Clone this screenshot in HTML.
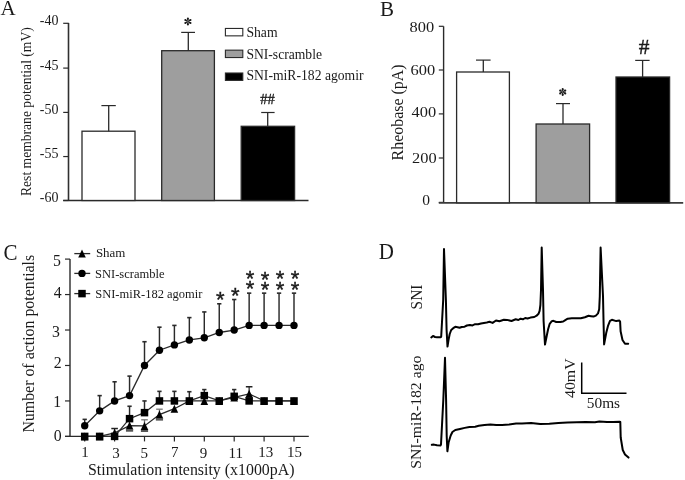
<!DOCTYPE html>
<html><head><meta charset="utf-8"><style>
html,body{margin:0;padding:0;background:#fff;}
svg{display:block;}
text{font-family:"Liberation Serif", serif;fill:#1a1a1a;}
svg{will-change:transform;}
</style></head><body>
<svg width="685" height="480" viewBox="0 0 685 480">
<rect x="0" y="0" width="685" height="480" fill="#fff"/>
<text x="0.5" y="15.3" font-size="21" text-anchor="start">A</text>
<text x="380" y="15.6" font-size="21" text-anchor="start">B</text>
<text transform="translate(3.5,259.7) scale(1,1.07)" font-size="21">C</text>
<text transform="translate(378.7,258.7) scale(1,1.07)" font-size="21">D</text>
<line x1="68.5" y1="22.9" x2="68.5" y2="200.5" stroke="#303030" stroke-width="1.6"/>
<line x1="63.2" y1="23.3" x2="68.5" y2="23.3" stroke="#2a2a2a" stroke-width="1.2"/>
<text x="58.5" y="25.2" font-size="14" text-anchor="end">-40</text>
<line x1="63.2" y1="68.1" x2="68.5" y2="68.1" stroke="#2a2a2a" stroke-width="1.2"/>
<text x="58.5" y="70.0" font-size="14" text-anchor="end">-45</text>
<line x1="63.2" y1="112.4" x2="68.5" y2="112.4" stroke="#2a2a2a" stroke-width="1.2"/>
<text x="58.5" y="114.3" font-size="14" text-anchor="end">-50</text>
<line x1="63.2" y1="156.55" x2="68.5" y2="156.55" stroke="#2a2a2a" stroke-width="1.2"/>
<text x="58.5" y="158.45" font-size="14" text-anchor="end">-55</text>
<line x1="63.2" y1="200.5" x2="68.5" y2="200.5" stroke="#2a2a2a" stroke-width="1.2"/>
<text x="58.5" y="202.4" font-size="14" text-anchor="end">-60</text>
<line x1="63.2" y1="200.5" x2="308.5" y2="200.5" stroke="#2a2a2a" stroke-width="1.4"/>
<rect x="82.0" y="131.2" width="53.0" height="69.3" fill="#ffffff" stroke="#2a2a2a" stroke-width="1.3"/>
<rect x="161.7" y="50.7" width="52.7" height="149.8" fill="#9e9e9e" stroke="#2a2a2a" stroke-width="1.3"/>
<rect x="241.2" y="126.3" width="53.4" height="74.2" fill="#000000" stroke="#2a2a2a" stroke-width="1.3"/>
<line x1="108.7" y1="131.2" x2="108.7" y2="105.6" stroke="#2a2a2a" stroke-width="1.3"/>
<line x1="101.4" y1="105.6" x2="115.8" y2="105.6" stroke="#2a2a2a" stroke-width="1.2"/>
<line x1="188.3" y1="50.7" x2="188.3" y2="32.4" stroke="#2a2a2a" stroke-width="1.3"/>
<line x1="181.2" y1="32.4" x2="195.0" y2="32.4" stroke="#2a2a2a" stroke-width="1.2"/>
<line x1="267.7" y1="126.3" x2="267.7" y2="112.5" stroke="#2a2a2a" stroke-width="1.3"/>
<line x1="261.2" y1="112.5" x2="274.6" y2="112.5" stroke="#2a2a2a" stroke-width="1.2"/>
<polygon points="188.25,21.20 188.90,18.50 186.90,18.50 187.55,21.20" fill="#1a1a1a"/>
<circle cx="187.90" cy="18.50" r="1.0" fill="#1a1a1a"/>
<polygon points="188.33,21.65 191.00,20.87 190.00,19.13 187.98,21.05" fill="#1a1a1a"/>
<circle cx="190.50" cy="20.00" r="1.0" fill="#1a1a1a"/>
<polygon points="187.82,21.05 185.80,19.13 184.80,20.87 187.47,21.65" fill="#1a1a1a"/>
<circle cx="185.30" cy="20.00" r="1.0" fill="#1a1a1a"/>
<polygon points="187.47,21.35 184.80,22.13 185.80,23.87 187.82,21.95" fill="#1a1a1a"/>
<circle cx="185.30" cy="23.00" r="1.0" fill="#1a1a1a"/>
<polygon points="187.55,21.80 186.90,24.50 188.90,24.50 188.25,21.80" fill="#1a1a1a"/>
<circle cx="187.90" cy="24.50" r="1.0" fill="#1a1a1a"/>
<polygon points="187.98,21.95 190.00,23.87 191.00,22.13 188.33,21.35" fill="#1a1a1a"/>
<circle cx="190.50" cy="23.00" r="1.0" fill="#1a1a1a"/>
<text x="267.6" y="104.2" font-size="14.5" text-anchor="middle" stroke="#1a1a1a" stroke-width="0.35">##</text>
<rect x="225.4" y="28.45" width="17.4" height="7.4" fill="#ffffff" stroke="#2a2a2a" stroke-width="1.1"/>
<text x="246.4" y="36.9" font-size="13.8" text-anchor="start" textLength="31.2" lengthAdjust="spacingAndGlyphs">Sham</text>
<rect x="225.4" y="50.15" width="17.4" height="7.4" fill="#9e9e9e" stroke="#2a2a2a" stroke-width="1.1"/>
<text x="246.4" y="58.8" font-size="13.8" text-anchor="start" textLength="75.6" lengthAdjust="spacingAndGlyphs">SNI-scramble</text>
<rect x="225.4" y="73.0" width="17.4" height="7.4" fill="#000000" stroke="#2a2a2a" stroke-width="1.1"/>
<text x="246.4" y="80.3" font-size="13.8" text-anchor="start" textLength="117.2" lengthAdjust="spacingAndGlyphs">SNI-miR-182 agomir</text>
<text transform="translate(30.7,196.0) rotate(-90)" font-size="14.0" text-anchor="start" textLength="168.8" lengthAdjust="spacingAndGlyphs">Rest membrane potential (mV)</text>
<line x1="443.6" y1="26.3" x2="443.6" y2="202.4" stroke="#2a2a2a" stroke-width="1.4"/>
<line x1="438.8" y1="26.3" x2="443.6" y2="26.3" stroke="#2a2a2a" stroke-width="1.2"/>
<line x1="438.8" y1="70.0" x2="443.6" y2="70.0" stroke="#2a2a2a" stroke-width="1.2"/>
<line x1="438.8" y1="113.9" x2="443.6" y2="113.9" stroke="#2a2a2a" stroke-width="1.2"/>
<line x1="438.8" y1="158.0" x2="443.6" y2="158.0" stroke="#2a2a2a" stroke-width="1.2"/>
<line x1="438.8" y1="202.4" x2="443.6" y2="202.4" stroke="#2a2a2a" stroke-width="1.2"/>
<text x="434.2" y="31.8" font-size="15.5" text-anchor="end" textLength="24.6" lengthAdjust="spacingAndGlyphs">800</text>
<text x="435.2" y="75.4" font-size="15.5" text-anchor="end" textLength="24.6" lengthAdjust="spacingAndGlyphs">600</text>
<text x="436.2" y="117.1" font-size="15.5" text-anchor="end" textLength="24.6" lengthAdjust="spacingAndGlyphs">400</text>
<text x="436.7" y="163.4" font-size="15.5" text-anchor="end" textLength="24.6" lengthAdjust="spacingAndGlyphs">200</text>
<text x="426.0" y="204.7" font-size="15.5" text-anchor="middle">0</text>
<line x1="438.8" y1="202.8" x2="683.2" y2="202.8" stroke="#3a3a3a" stroke-width="1.7"/>
<rect x="456.6" y="72.0" width="52.8" height="130.8" fill="#ffffff" stroke="#2a2a2a" stroke-width="1.3"/>
<rect x="536.1" y="124.0" width="53.5" height="78.8" fill="#9e9e9e" stroke="#2a2a2a" stroke-width="1.3"/>
<rect x="616.0" y="77.0" width="53.6" height="125.8" fill="#000000" stroke="#2a2a2a" stroke-width="1.3"/>
<line x1="483.3" y1="72.0" x2="483.3" y2="60.1" stroke="#2a2a2a" stroke-width="1.3"/>
<line x1="476.0" y1="60.1" x2="490.6" y2="60.1" stroke="#2a2a2a" stroke-width="1.2"/>
<line x1="563.0" y1="124.0" x2="563.0" y2="103.6" stroke="#2a2a2a" stroke-width="1.3"/>
<line x1="556.0" y1="103.6" x2="570.0" y2="103.6" stroke="#2a2a2a" stroke-width="1.2"/>
<line x1="642.6" y1="77.0" x2="642.6" y2="60.4" stroke="#2a2a2a" stroke-width="1.3"/>
<line x1="635.2" y1="60.4" x2="649.6" y2="60.4" stroke="#2a2a2a" stroke-width="1.2"/>
<polygon points="563.05,91.60 563.70,88.90 561.70,88.90 562.35,91.60" fill="#1a1a1a"/>
<circle cx="562.70" cy="88.90" r="1.0" fill="#1a1a1a"/>
<polygon points="563.13,92.05 565.80,91.27 564.80,89.53 562.78,91.45" fill="#1a1a1a"/>
<circle cx="565.30" cy="90.40" r="1.0" fill="#1a1a1a"/>
<polygon points="562.62,91.45 560.60,89.53 559.60,91.27 562.27,92.05" fill="#1a1a1a"/>
<circle cx="560.10" cy="90.40" r="1.0" fill="#1a1a1a"/>
<polygon points="562.27,91.75 559.60,92.53 560.60,94.27 562.62,92.35" fill="#1a1a1a"/>
<circle cx="560.10" cy="93.40" r="1.0" fill="#1a1a1a"/>
<polygon points="562.35,92.20 561.70,94.90 563.70,94.90 563.05,92.20" fill="#1a1a1a"/>
<circle cx="562.70" cy="94.90" r="1.0" fill="#1a1a1a"/>
<polygon points="562.78,92.35 564.80,94.27 565.80,92.53 563.13,91.75" fill="#1a1a1a"/>
<circle cx="565.30" cy="93.40" r="1.0" fill="#1a1a1a"/>
<text x="644.1" y="53.8" font-size="21.4" text-anchor="middle" stroke="#1a1a1a" stroke-width="0.4">#</text>
<text transform="translate(402.9,160.4) rotate(-90)" font-size="16.2" text-anchor="start" textLength="96.0" lengthAdjust="spacingAndGlyphs">Rheobase (pA)</text>
<line x1="70.0" y1="259.1" x2="70.0" y2="436.4" stroke="#2a2a2a" stroke-width="1.4"/>
<line x1="65.0" y1="436.4" x2="70.0" y2="436.4" stroke="#2a2a2a" stroke-width="1.2"/>
<text x="61.6" y="440.5" font-size="15.8" text-anchor="end">0</text>
<line x1="65.0" y1="400.94" x2="70.0" y2="400.94" stroke="#2a2a2a" stroke-width="1.2"/>
<text x="61.2" y="406.5" font-size="15.8" text-anchor="end">1</text>
<line x1="65.0" y1="365.48" x2="70.0" y2="365.48" stroke="#2a2a2a" stroke-width="1.2"/>
<text x="61.6" y="368.1" font-size="15.8" text-anchor="end">2</text>
<line x1="65.0" y1="330.02" x2="70.0" y2="330.02" stroke="#2a2a2a" stroke-width="1.2"/>
<text x="59.8" y="336.6" font-size="15.8" text-anchor="end">3</text>
<line x1="65.0" y1="294.56" x2="70.0" y2="294.56" stroke="#2a2a2a" stroke-width="1.2"/>
<text x="61.6" y="297.8" font-size="15.8" text-anchor="end">4</text>
<line x1="65.0" y1="259.1" x2="70.0" y2="259.1" stroke="#2a2a2a" stroke-width="1.2"/>
<text x="60.9" y="265.6" font-size="15.8" text-anchor="end">5</text>
<line x1="65.0" y1="436.4" x2="308.8" y2="436.4" stroke="#2a2a2a" stroke-width="1.4"/>
<line x1="84.7" y1="436.4" x2="84.7" y2="441.4" stroke="#2a2a2a" stroke-width="1.2"/>
<line x1="114.6" y1="436.4" x2="114.6" y2="441.4" stroke="#2a2a2a" stroke-width="1.2"/>
<line x1="144.5" y1="436.4" x2="144.5" y2="441.4" stroke="#2a2a2a" stroke-width="1.2"/>
<line x1="174.4" y1="436.4" x2="174.4" y2="441.4" stroke="#2a2a2a" stroke-width="1.2"/>
<line x1="204.3" y1="436.4" x2="204.3" y2="441.4" stroke="#2a2a2a" stroke-width="1.2"/>
<line x1="234.2" y1="436.4" x2="234.2" y2="441.4" stroke="#2a2a2a" stroke-width="1.2"/>
<line x1="264.1" y1="436.4" x2="264.1" y2="441.4" stroke="#2a2a2a" stroke-width="1.2"/>
<line x1="294.0" y1="436.4" x2="294.0" y2="441.4" stroke="#2a2a2a" stroke-width="1.2"/>
<text x="85.0" y="457.3" font-size="15" text-anchor="middle">1</text>
<text x="116.0" y="457.9" font-size="15" text-anchor="middle">3</text>
<text x="144.2" y="457.7" font-size="15" text-anchor="middle">5</text>
<text x="174.7" y="456.5" font-size="15" text-anchor="middle">7</text>
<text x="203.4" y="458.0" font-size="15" text-anchor="middle">9</text>
<text x="235.7" y="458.0" font-size="15" text-anchor="middle">11</text>
<text x="265.8" y="457.2" font-size="15" text-anchor="middle">13</text>
<text x="294.4" y="457.2" font-size="15" text-anchor="middle">15</text>
<text x="88.0" y="474.6" font-size="15.8" text-anchor="start" textLength="206.5" lengthAdjust="spacingAndGlyphs">Stimulation intensity (x1000pA)</text>
<text transform="translate(33.9,432.6) rotate(-90)" font-size="16.3" text-anchor="start" textLength="177.8" lengthAdjust="spacingAndGlyphs">Number of action potentials</text>
<line x1="84.7" y1="425.76" x2="84.7" y2="419.38" stroke="#2a2a2a" stroke-width="1.45"/>
<line x1="82.55" y1="419.38" x2="86.85" y2="419.38" stroke="#2a2a2a" stroke-width="1.6"/>
<line x1="99.65" y1="410.87" x2="99.65" y2="395.62" stroke="#2a2a2a" stroke-width="1.45"/>
<line x1="97.5" y1="395.62" x2="101.8" y2="395.62" stroke="#2a2a2a" stroke-width="1.6"/>
<line x1="114.6" y1="400.94" x2="114.6" y2="381.79" stroke="#2a2a2a" stroke-width="1.45"/>
<line x1="112.45" y1="381.79" x2="116.75" y2="381.79" stroke="#2a2a2a" stroke-width="1.6"/>
<line x1="129.55" y1="395.62" x2="129.55" y2="376.12" stroke="#2a2a2a" stroke-width="1.45"/>
<line x1="127.4" y1="376.12" x2="131.7" y2="376.12" stroke="#2a2a2a" stroke-width="1.6"/>
<line x1="144.5" y1="365.48" x2="144.5" y2="341.72" stroke="#2a2a2a" stroke-width="1.45"/>
<line x1="142.35" y1="341.72" x2="146.65" y2="341.72" stroke="#2a2a2a" stroke-width="1.6"/>
<line x1="159.45" y1="350.23" x2="159.45" y2="327.18" stroke="#2a2a2a" stroke-width="1.45"/>
<line x1="157.3" y1="327.18" x2="161.6" y2="327.18" stroke="#2a2a2a" stroke-width="1.6"/>
<line x1="174.4" y1="344.91" x2="174.4" y2="325.41" stroke="#2a2a2a" stroke-width="1.45"/>
<line x1="172.25" y1="325.41" x2="176.55" y2="325.41" stroke="#2a2a2a" stroke-width="1.6"/>
<line x1="189.35" y1="339.95" x2="189.35" y2="317.61" stroke="#2a2a2a" stroke-width="1.45"/>
<line x1="187.2" y1="317.61" x2="191.5" y2="317.61" stroke="#2a2a2a" stroke-width="1.6"/>
<line x1="204.3" y1="337.82" x2="204.3" y2="311.94" stroke="#2a2a2a" stroke-width="1.45"/>
<line x1="202.15" y1="311.94" x2="206.45" y2="311.94" stroke="#2a2a2a" stroke-width="1.6"/>
<line x1="219.25" y1="332.5" x2="219.25" y2="303.78" stroke="#2a2a2a" stroke-width="1.45"/>
<line x1="217.1" y1="303.78" x2="221.4" y2="303.78" stroke="#2a2a2a" stroke-width="1.6"/>
<line x1="234.2" y1="330.02" x2="234.2" y2="299.52" stroke="#2a2a2a" stroke-width="1.45"/>
<line x1="232.05" y1="299.52" x2="236.35" y2="299.52" stroke="#2a2a2a" stroke-width="1.6"/>
<line x1="249.15" y1="325.41" x2="249.15" y2="293.14" stroke="#2a2a2a" stroke-width="1.45"/>
<line x1="247.0" y1="293.14" x2="251.3" y2="293.14" stroke="#2a2a2a" stroke-width="1.6"/>
<line x1="264.1" y1="325.41" x2="264.1" y2="293.14" stroke="#2a2a2a" stroke-width="1.45"/>
<line x1="261.95" y1="293.14" x2="266.25" y2="293.14" stroke="#2a2a2a" stroke-width="1.6"/>
<line x1="279.05" y1="325.41" x2="279.05" y2="293.14" stroke="#2a2a2a" stroke-width="1.45"/>
<line x1="276.9" y1="293.14" x2="281.2" y2="293.14" stroke="#2a2a2a" stroke-width="1.6"/>
<line x1="294.0" y1="325.41" x2="294.0" y2="293.14" stroke="#2a2a2a" stroke-width="1.45"/>
<line x1="291.85" y1="293.14" x2="296.15" y2="293.14" stroke="#2a2a2a" stroke-width="1.6"/>
<line x1="129.55" y1="418.67" x2="129.55" y2="406.26" stroke="#2a2a2a" stroke-width="1.45"/>
<line x1="127.4" y1="406.26" x2="131.7" y2="406.26" stroke="#2a2a2a" stroke-width="1.6"/>
<line x1="144.5" y1="412.64" x2="144.5" y2="400.94" stroke="#2a2a2a" stroke-width="1.45"/>
<line x1="142.35" y1="400.94" x2="146.65" y2="400.94" stroke="#2a2a2a" stroke-width="1.6"/>
<line x1="159.45" y1="400.94" x2="159.45" y2="391.37" stroke="#2a2a2a" stroke-width="1.45"/>
<line x1="157.3" y1="391.37" x2="161.6" y2="391.37" stroke="#2a2a2a" stroke-width="1.6"/>
<line x1="174.4" y1="400.94" x2="174.4" y2="391.37" stroke="#2a2a2a" stroke-width="1.45"/>
<line x1="172.25" y1="391.37" x2="176.55" y2="391.37" stroke="#2a2a2a" stroke-width="1.6"/>
<line x1="189.35" y1="400.94" x2="189.35" y2="391.72" stroke="#2a2a2a" stroke-width="1.45"/>
<line x1="187.2" y1="391.72" x2="191.5" y2="391.72" stroke="#2a2a2a" stroke-width="1.6"/>
<line x1="204.3" y1="395.62" x2="204.3" y2="389.59" stroke="#2a2a2a" stroke-width="1.45"/>
<line x1="202.15" y1="389.59" x2="206.45" y2="389.59" stroke="#2a2a2a" stroke-width="1.6"/>
<line x1="234.2" y1="396.33" x2="234.2" y2="389.59" stroke="#2a2a2a" stroke-width="1.45"/>
<line x1="232.05" y1="389.59" x2="236.35" y2="389.59" stroke="#2a2a2a" stroke-width="1.6"/>
<line x1="114.6" y1="432.85" x2="114.6" y2="428.53" stroke="#333" stroke-width="1.3"/>
<line x1="111.3" y1="428.53" x2="117.9" y2="428.53" stroke="#222" stroke-width="1.5"/>
<rect x="125.95" y="429.52" width="7.2" height="2.2" fill="#555"/>
<line x1="144.5" y1="425.9" x2="144.5" y2="419.8" stroke="#666" stroke-width="1.3"/>
<line x1="141.2" y1="419.8" x2="147.8" y2="419.8" stroke="#777" stroke-width="1.3"/>
<rect x="140.90" y="429.80" width="7.2" height="2.2" fill="#555"/>
<line x1="159.45" y1="414.52" x2="159.45" y2="409.2" stroke="#666" stroke-width="1.3"/>
<line x1="156.15" y1="409.2" x2="162.75" y2="409.2" stroke="#777" stroke-width="1.3"/>
<rect x="155.85" y="418.42" width="7.2" height="2.2" fill="#555"/>
<line x1="249.15" y1="393.85" x2="249.15" y2="386.76" stroke="#333" stroke-width="1.3"/>
<line x1="245.85" y1="386.76" x2="252.45" y2="386.76" stroke="#222" stroke-width="1.5"/>
<polyline points="84.70,436.40 99.65,436.40 114.60,432.85 129.55,425.62 144.50,425.90 159.45,414.52 174.40,408.71 189.35,400.94 204.30,400.94 219.25,400.94 234.20,397.39 249.15,393.85 264.10,400.94 279.05,400.94 294.00,400.94" fill="none" stroke="#2a2a2a" stroke-width="1.3"/>
<polyline points="84.70,436.40 99.65,436.40 114.60,436.40 129.55,418.67 144.50,412.64 159.45,400.94 174.40,400.94 189.35,400.94 204.30,395.62 219.25,400.94 234.20,396.33 249.15,400.94 264.10,400.94 279.05,400.94 294.00,400.94" fill="none" stroke="#2a2a2a" stroke-width="1.3"/>
<polyline points="84.70,425.76 99.65,410.87 114.60,400.94 129.55,395.62 144.50,365.48 159.45,350.23 174.40,344.91 189.35,339.95 204.30,337.82 219.25,332.50 234.20,330.02 249.15,325.41 264.10,325.41 279.05,325.41 294.00,325.41" fill="none" stroke="#2a2a2a" stroke-width="1.3"/>
<polygon points="84.70,432.40 88.50,440.40 80.90,440.40" fill="#000"/>
<polygon points="99.65,432.40 103.45,440.40 95.85,440.40" fill="#000"/>
<polygon points="114.60,428.85 118.40,436.85 110.80,436.85" fill="#000"/>
<polygon points="129.55,421.62 133.35,429.62 125.75,429.62" fill="#000"/>
<polygon points="144.50,421.90 148.30,429.90 140.70,429.90" fill="#000"/>
<polygon points="159.45,410.52 163.25,418.52 155.65,418.52" fill="#000"/>
<polygon points="174.40,404.71 178.20,412.71 170.60,412.71" fill="#000"/>
<polygon points="189.35,396.94 193.15,404.94 185.55,404.94" fill="#000"/>
<polygon points="204.30,396.94 208.10,404.94 200.50,404.94" fill="#000"/>
<polygon points="219.25,396.94 223.05,404.94 215.45,404.94" fill="#000"/>
<polygon points="234.20,393.39 238.00,401.39 230.40,401.39" fill="#000"/>
<polygon points="249.15,389.85 252.95,397.85 245.35,397.85" fill="#000"/>
<polygon points="264.10,396.94 267.90,404.94 260.30,404.94" fill="#000"/>
<polygon points="279.05,396.94 282.85,404.94 275.25,404.94" fill="#000"/>
<polygon points="294.00,396.94 297.80,404.94 290.20,404.94" fill="#000"/>
<rect x="80.95" y="432.65" width="7.5" height="7.5" fill="#000"/>
<rect x="95.90" y="432.65" width="7.5" height="7.5" fill="#000"/>
<rect x="110.85" y="432.65" width="7.5" height="7.5" fill="#000"/>
<rect x="125.80" y="414.92" width="7.5" height="7.5" fill="#000"/>
<rect x="140.75" y="408.89" width="7.5" height="7.5" fill="#000"/>
<rect x="155.70" y="397.19" width="7.5" height="7.5" fill="#000"/>
<rect x="170.65" y="397.19" width="7.5" height="7.5" fill="#000"/>
<rect x="185.60" y="397.19" width="7.5" height="7.5" fill="#000"/>
<rect x="200.55" y="391.87" width="7.5" height="7.5" fill="#000"/>
<rect x="215.50" y="397.19" width="7.5" height="7.5" fill="#000"/>
<rect x="230.45" y="392.58" width="7.5" height="7.5" fill="#000"/>
<rect x="245.40" y="397.19" width="7.5" height="7.5" fill="#000"/>
<rect x="260.35" y="397.19" width="7.5" height="7.5" fill="#000"/>
<rect x="275.30" y="397.19" width="7.5" height="7.5" fill="#000"/>
<rect x="290.25" y="397.19" width="7.5" height="7.5" fill="#000"/>
<circle cx="84.70" cy="425.76" r="3.7" fill="#000"/>
<circle cx="99.65" cy="410.87" r="3.7" fill="#000"/>
<circle cx="114.60" cy="400.94" r="3.7" fill="#000"/>
<circle cx="129.55" cy="395.62" r="3.7" fill="#000"/>
<circle cx="144.50" cy="365.48" r="3.7" fill="#000"/>
<circle cx="159.45" cy="350.23" r="3.7" fill="#000"/>
<circle cx="174.40" cy="344.91" r="3.7" fill="#000"/>
<circle cx="189.35" cy="339.95" r="3.7" fill="#000"/>
<circle cx="204.30" cy="337.82" r="3.7" fill="#000"/>
<circle cx="219.25" cy="332.50" r="3.7" fill="#000"/>
<circle cx="234.20" cy="330.02" r="3.7" fill="#000"/>
<circle cx="249.15" cy="325.41" r="3.7" fill="#000"/>
<circle cx="264.10" cy="325.41" r="3.7" fill="#000"/>
<circle cx="279.05" cy="325.41" r="3.7" fill="#000"/>
<circle cx="294.00" cy="325.41" r="3.7" fill="#000"/>
<text x="220.25" y="307.20" font-size="22" text-anchor="middle" stroke="#1a1a1a" stroke-width="0.4" style="font-family:Liberation Sans">*</text>
<text x="235.20" y="303.20" font-size="22" text-anchor="middle" stroke="#1a1a1a" stroke-width="0.4" style="font-family:Liberation Sans">*</text>
<text x="250.15" y="285.90" font-size="22" text-anchor="middle" stroke="#1a1a1a" stroke-width="0.4" style="font-family:Liberation Sans">*</text>
<text x="250.15" y="296.40" font-size="22" text-anchor="middle" stroke="#1a1a1a" stroke-width="0.4" style="font-family:Liberation Sans">*</text>
<text x="265.10" y="286.70" font-size="22" text-anchor="middle" stroke="#1a1a1a" stroke-width="0.4" style="font-family:Liberation Sans">*</text>
<text x="265.10" y="297.30" font-size="22" text-anchor="middle" stroke="#1a1a1a" stroke-width="0.4" style="font-family:Liberation Sans">*</text>
<text x="280.05" y="286.30" font-size="22" text-anchor="middle" stroke="#1a1a1a" stroke-width="0.4" style="font-family:Liberation Sans">*</text>
<text x="280.05" y="296.80" font-size="22" text-anchor="middle" stroke="#1a1a1a" stroke-width="0.4" style="font-family:Liberation Sans">*</text>
<text x="295.00" y="286.30" font-size="22" text-anchor="middle" stroke="#1a1a1a" stroke-width="0.4" style="font-family:Liberation Sans">*</text>
<text x="295.00" y="296.80" font-size="22" text-anchor="middle" stroke="#1a1a1a" stroke-width="0.4" style="font-family:Liberation Sans">*</text>
<line x1="74.3" y1="253.6" x2="90.2" y2="253.6" stroke="#2a2a2a" stroke-width="1.3"/>
<polygon points="82.00,249.60 85.80,257.60 78.20,257.60" fill="#000"/>
<text x="95.9" y="256.8" font-size="12.6" text-anchor="start" textLength="29.5" lengthAdjust="spacingAndGlyphs">Sham</text>
<line x1="74.3" y1="273.4" x2="90.2" y2="273.4" stroke="#2a2a2a" stroke-width="1.3"/>
<circle cx="82.00" cy="273.40" r="3.7" fill="#000"/>
<text x="95.0" y="277.8" font-size="12.6" text-anchor="start" textLength="69.6" lengthAdjust="spacingAndGlyphs">SNI-scramble</text>
<line x1="74.3" y1="293.6" x2="90.2" y2="293.6" stroke="#2a2a2a" stroke-width="1.3"/>
<rect x="78.25" y="289.85" width="7.5" height="7.5" fill="#000"/>
<text x="95.2" y="298.4" font-size="12.6" text-anchor="start" textLength="107.3" lengthAdjust="spacingAndGlyphs">SNI-miR-182 agomir</text>
<polyline points="431.3,337.4 433,335.9 435,337 437,337.3 440.8,337.2 441.2,336.5 443.2,300 444.0,249.0 445.9,300 446.6,330 447.5,346.6 448.5,340 449.7,334 451.2,330 453.2,328.2 455.3,326.8 457.6,327.2 459.6,327.8 461.7,327 464.6,326.7 466.9,325.5 469.9,324.9 472.5,325.4 475.1,324.2 478.1,324.3 481,323.5 483.9,322.9 486.8,322.5 489.5,321.8 492.6,322.9 496,320.5 499.4,321.2 503.9,319.7 507,319.9 511.5,321 515.7,319.3 518.4,320 520.6,318.7 522.9,319.3 525.2,318 527.5,318.5 530.5,317.6 534.3,317 536.6,315.7 538.5,313.8 539.6,310.8 540.4,305 541.0,290 541.7,247.6 543.0,290 543.6,321 545.0,344.6 546.9,335 548.1,329.3 549.7,323.8 551.8,321.2 553.4,320.8 556.3,322 560.4,322 563.2,321.5 565.3,320.1 567.7,318.7 571.8,318.3 576.7,318.3 580.8,318.3 584.9,317.3 588.6,315.8 591,316.2 593.5,316.6 595.9,315.6 598,313.4 599.2,309.3 599.8,296.3 600.6,247.5 603,296 603.5,320 604.1,344.4 606.2,333.1 608.1,325.6 610,320.8 611.9,319.8 616.2,321.1 619.4,320.6 620.1,321.5 620.6,331.2 622.5,340 625,343.8 628.2,343.8" fill="none" stroke="#000" stroke-width="2" stroke-linejoin="round" stroke-linecap="round"/>
<polyline points="431.8,444.8 434,444.6 437,445.3 440.6,445.5 441.0,444.5 443.3,400 445.0,357.8 446.1,400 446.7,436 447.4,451.3 448.6,442.5 450.7,435.5 452.4,432 455.3,430 460,429 464.7,427.9 469.4,426.9 475.2,426.7 478.7,425.8 484.5,425 490.4,424.4 496.2,425 502.1,425 509.1,424.4 516.1,423.6 522,423.4 531.1,422.9 540.2,424 549.3,423.7 558.4,422.9 567.5,422.6 576.7,422.3 585.8,421.9 594.9,422.3 599.4,421.5 607,421.9 613.1,421.9 619.5,421.7 620.3,422 620.7,437.5 622.75,450 625,454.5 628.5,457.6" fill="none" stroke="#000" stroke-width="2" stroke-linejoin="round" stroke-linecap="round"/>
<text transform="translate(421.9,309.4) rotate(-90)" font-size="15.8" text-anchor="start" textLength="24.8" lengthAdjust="spacingAndGlyphs">SNI</text>
<text transform="translate(420.8,468.8) rotate(-90)" font-size="15.6" text-anchor="start" textLength="113.2" lengthAdjust="spacingAndGlyphs">SNI-miR-182 ago</text>
<line x1="581.7" y1="362.5" x2="581.7" y2="393.3" stroke="#000" stroke-width="1.5"/>
<line x1="581.0" y1="393.3" x2="626.5" y2="393.3" stroke="#000" stroke-width="1.5"/>
<text transform="translate(574.5,398.0) rotate(-90)" font-size="15.5" text-anchor="start" textLength="39.6" lengthAdjust="spacingAndGlyphs">40mV</text>
<text x="586.8" y="408.4" font-size="15.5" text-anchor="start" textLength="33.3" lengthAdjust="spacingAndGlyphs">50ms</text>
</svg>
</body></html>
